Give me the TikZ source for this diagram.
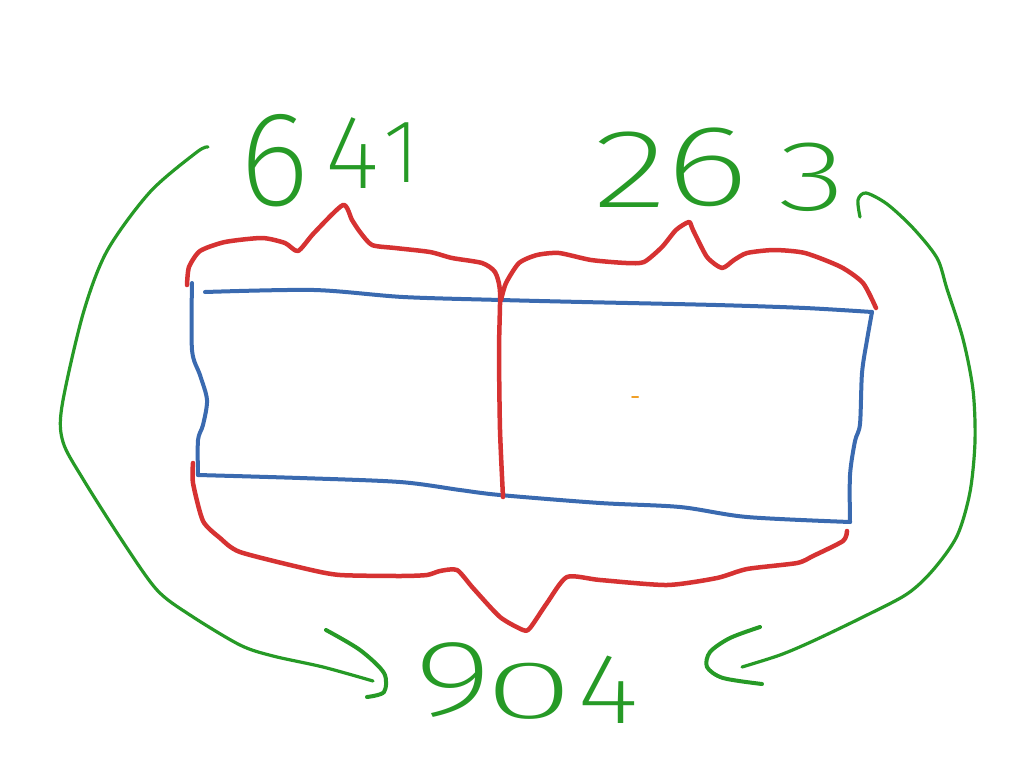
\documentclass[tikz,border=0pt]{standalone}
\usepackage{fontspec}
\newfontfamily\hand{Fira Sans}[UprightFont=* ExtraLight]
\definecolor{pgreen}{RGB}{38,154,38}
\definecolor{pred}{RGB}{214,50,50}
\definecolor{pblue}{RGB}{58,106,176}
\definecolor{porange}{RGB}{240,160,40}
\newcommand\hdg[3]{\raisebox{#2pt}{\fontsize{#1}{#1}\selectfont #3}}
\begin{document}
\begin{tikzpicture}[x=1pt,y=-1pt,line cap=round,line join=round,
  redline/.style={draw=pred,line width=4.5pt},
  blueline/.style={draw=pblue,line width=4pt},
  greenline/.style={draw=pgreen,line width=3.2pt},
  num/.style={text=pgreen,font=\hand,inner sep=0pt,anchor=base west}]
\useasboundingbox (0,0) rectangle (1024,768);
\fill[white] (0,0) rectangle (1024,768);

% numbers
\node[num] (n641) at (239,205) {\hdg{135}{0}{6}\kern16pt\hdg{105}{17}{4}\kern4pt\hdg{90}{23}{1}};
\node[num] (n263) at (593,207) {\hdg{112}{0}{\scalebox{1.4}[1]{2}}\kern-2pt\hdg{115}{2}{\scalebox{1.4}[1]{6}}\kern29pt\hdg{100}{-3}{\scalebox{1.4}[1]{3}}};
\node[num] (n904) at (414,715) {\hdg{108}{0}{\scalebox{1.4}[1]{9}}\kern-8pt\hdg{82}{-3}{\scalebox{2.0}[1]{0}}\kern4pt\hdg{100}{-8}{\scalebox{1.2}[1]{4}}};

% blue rectangle
\draw[blueline] plot[smooth,tension=0.5] coordinates {(205,292) (314,290) (403,297) (501,300) (582,302) (716,305) (805,308) (872,312)};
\draw[blueline] plot[smooth,tension=0.5] coordinates {(192,283) (192,350) (200,375) (207,400) (203,425) (198,440) (198,475)};
\draw[blueline] plot[smooth,tension=0.5] coordinates {(198,475) (300,478) (400,482) (460,490) (500,495) (600,503) (680,507) (747,517) (850,522)};
\draw[blueline] plot[smooth,tension=0.5] coordinates {(872,312) (867,340) (862,373) (860,424) (855,441) (850,475) (850,522)};

% red braces
\draw[redline] plot[smooth,tension=0.4] coordinates {(187,285) (189,267) (200,251) (225,242) (262,238) (285,243) (298,251) (314,233) (343,205) (352,220) (360,232) (372,245) (395,248) (430,252) (452,258) (482,263) (495,272) (500,292) (499,350) (500,430) (503,497)};
\draw[redline] plot[smooth,tension=0.4] coordinates {(501,300) (506,283) (519,263) (537,255) (559,253) (591,260) (626,263) (644,262) (662,247) (676,230) (689,222) (693,230) (707,257) (722,268) (734,260) (747,253) (774,250) (805,253) (841,267) (863,283) (876,308)};
\draw[redline] plot[smooth,tension=0.4] coordinates {(193,463) (193,483) (203,521) (220,538) (240,552) (307,569) (340,575) (400,576) (427,575) (440,571) (457,570) (473,588) (500,617) (523,630) (530,628) (547,603) (567,577) (600,580) (667,585) (717,578) (747,569) (797,563) (813,556) (843,541) (847,531)};

% green arrows
\coordinate (la) at (373,681);
\coordinate (ra) at (742,667);
\draw[greenline] plot[smooth,tension=0.5] coordinates {(208,147) (197,152) (150,192) (107,251) (83,314) (62,406) (63,442) (83,479) (123,542) (157,590) (190,615) (240,645) (273,656) (323,667) (la)};
\draw[greenline,line width=4pt] plot[smooth,tension=0.5] coordinates {(326,630) (360,650) (384,673) (384,692) (367,697)};
\draw[greenline] plot[smooth,tension=0.5] coordinates {(860,217) (858,200) (866,193) (887,204) (913,228) (937,258) (947,289) (963,339) (973,390) (975,441) (970,492) (957,536) (933,570) (907,594) (863,617) (813,641) (780,655) (ra)};
\draw[greenline,line width=4pt] plot[smooth,tension=0.5] coordinates {(760,627) (730,638) (710,652) (707,667) (723,678) (762,684)};

% stray orange mark
\draw[draw=porange,line width=2pt] (632,397) -- (638,397);
\end{tikzpicture}
\end{document}
